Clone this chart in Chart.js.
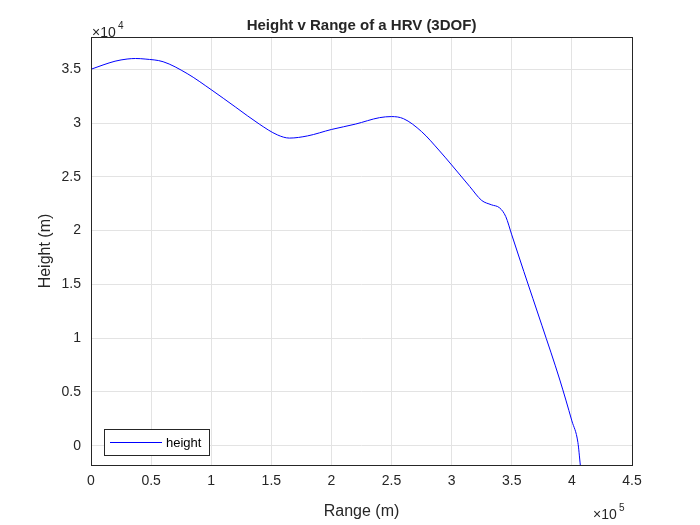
<!DOCTYPE html>
<html><head><meta charset="utf-8">
<script src="https://cdn.jsdelivr.net/npm/chart.js@4/dist/chart.umd.min.js"></script>
<style>html,body{margin:0;background:#fff}</style>
</head><body><canvas id="c" width="700" height="525"></canvas>
<script>
const rangeM = [0,10000,20000,30000,37000,45000,60000,80000,100000,120000,140000,155000,165000,180000,200000,220000,240000,250000,260000,275000,290000,300000,315000,325000,333000,340000,345000,350000,360000,375000,390000,400000,405000,407000];
const heightM = [35000,35400,35750,35950,36000,35950,35700,34600,33100,31500,29900,28900,28600,28800,29400,29900,30500,30600,30400,29200,27400,26100,24100,22800,22400,22100,21300,19600,16200,11200,6100,2300,300,-1800];
const xTicks = [0,0.5,1,1.5,2,2.5,3,3.5,4,4.5];
const yTicks = [0,0.5,1,1.5,2,2.5,3,3.5];
const FONT = "'Liberation Sans', Arial, sans-serif";
const deco = {
  id:'deco',
  afterDraw(ch){
    const c=ch.ctx,a=ch.chartArea;
    c.save();
    c.strokeStyle='#262626';c.lineWidth=1;
    c.strokeRect(a.left+0.5,a.top+0.5,a.right-a.left,a.bottom-a.top);
    c.fillStyle='#262626';c.textAlign='center';
    c.font='bold 15px '+FONT;
    c.fillText('Height v Range of a HRV (3DOF)',(a.left+a.right)/2,30);
    c.font='16px '+FONT;
    c.fillText('Range (m)',(a.left+a.right)/2,516);
    c.save();c.translate(50,(a.top+a.bottom)/2);c.rotate(-Math.PI/2);c.fillText('Height (m)',0,0);c.restore();
    c.font='14px '+FONT;c.textAlign='left';
    c.fillText('\u00d710',92,37);c.font='10px '+FONT;c.fillText('4',118,29);
    c.font='14px '+FONT;c.fillText('\u00d710',593,519);c.font='10px '+FONT;c.fillText('5',619,511);
    const lx=104,ly=429,lw=105,lh=26;
    c.fillStyle='#fff';c.fillRect(lx,ly,lw,lh);c.strokeStyle='#262626';c.strokeRect(lx+0.5,ly+0.5,lw,lh);
    c.strokeStyle='#0000ff';c.beginPath();c.moveTo(110,ly+13.5);c.lineTo(162,ly+13.5);c.stroke();
    c.fillStyle='#000';c.font='13px '+FONT;c.textBaseline='middle';c.fillText('height',166,ly+14);
    c.restore();
  }
};
new Chart(document.getElementById('c'),{
  type:'scatter',
  data:{datasets:[{data:rangeM.map((x,i)=>({x,y:heightM[i]})),showLine:true,borderColor:'#0000ff',borderWidth:1,pointRadius:0,cubicInterpolationMode:'monotone'}]},
  options:{responsive:false,animation:false,devicePixelRatio:1,
    layout:{padding:{left:0,top:37,right:68,bottom:0}},
    plugins:{legend:{display:false},tooltip:{enabled:false}},
    scales:{
      x:{type:'linear',min:0,max:450000,afterFit:s=>{s.height=60},
        afterBuildTicks:s=>{s.ticks=xTicks.map(v=>({value:v*1e5}))},
        grid:{color:'#e3e3e3',drawTicks:false},border:{display:false},
        ticks:{autoSkip:false,padding:8,color:'#262626',font:{family:FONT,size:14},maxRotation:0,callback:v=>String(+(v/1e5).toFixed(1))}},
      y:{type:'linear',min:-1800,max:38000,afterFit:s=>{s.width=91},
        afterBuildTicks:s=>{s.ticks=yTicks.map(v=>({value:v*1e4}))},
        grid:{color:'#e3e3e3',drawTicks:false},border:{display:false},
        ticks:{autoSkip:false,padding:10,color:'#262626',font:{family:FONT,size:14},callback:v=>String(+(v/1e4).toFixed(1))}}
    }},
  plugins:[deco]
});
</script></body></html>
